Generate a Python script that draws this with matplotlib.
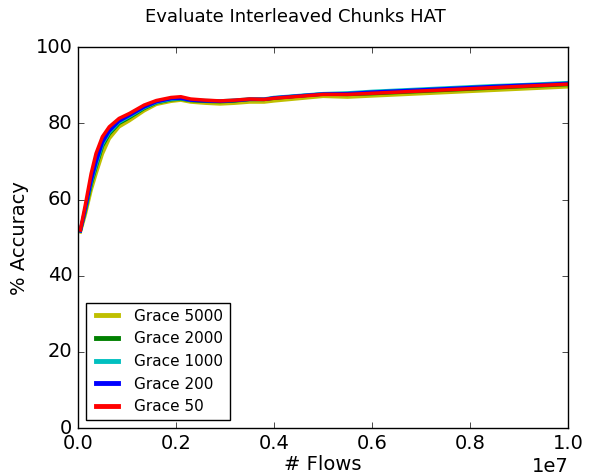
import matplotlib
matplotlib.use('Agg')
import matplotlib.pyplot as plt

# flows (x 1e7) and accuracy per grace value
flows = [0.005, 0.015, 0.027, 0.037, 0.05, 0.064, 0.084, 0.105, 0.135, 0.16,
         0.19, 0.21, 0.23, 0.26, 0.29, 0.32, 0.35, 0.38, 0.40, 0.45,
         0.50, 0.55, 0.60, 0.65, 0.70, 0.75, 0.80, 0.85, 0.90, 0.95, 1.00]

grace_5000 = [51.5, 56.0, 62.5, 66.8, 72.0, 76.0, 79.1, 80.7, 83.3, 85.0,
              85.8, 86.1, 85.6, 85.3, 85.1, 85.3, 85.6, 85.6, 85.9, 86.5,
              87.1, 86.9, 87.2, 87.5, 87.8, 88.1, 88.4, 88.7, 89.0, 89.3, 89.6]
grace_2000 = [51.8, 57.0, 64.0, 68.5, 74.0, 77.2, 80.0, 81.5, 83.9, 85.4,
              86.2, 86.4, 86.0, 85.8, 85.7, 85.9, 86.3, 86.3, 86.6, 87.2,
              87.7, 87.6, 87.8, 88.1, 88.4, 88.7, 89.0, 89.3, 89.6, 89.9, 90.2]
grace_1000 = [51.8, 57.3, 64.5, 69.0, 74.5, 77.6, 80.3, 81.8, 84.1, 85.5,
              86.3, 86.5, 86.1, 86.0, 85.9, 86.1, 86.4, 86.4, 86.8, 87.3,
              87.8, 88.0, 88.4, 88.7, 89.0, 89.3, 89.6, 89.9, 90.1, 90.4, 90.7]
grace_200 = [51.8, 57.6, 65.0, 69.8, 75.0, 78.0, 80.6, 82.1, 84.3, 85.7,
             86.5, 86.6, 86.1, 85.9, 85.8, 86.0, 86.3, 86.3, 86.7, 87.2,
             87.7, 87.8, 88.2, 88.5, 88.8, 89.1, 89.4, 89.7, 90.0, 90.2, 90.5]
grace_50 = [52.0, 58.5, 66.8, 72.1, 76.5, 79.1, 81.3, 82.6, 84.8, 86.0,
            86.8, 87.0, 86.4, 86.1, 85.9, 86.1, 86.4, 86.3, 86.6, 87.1,
            87.6, 87.6, 87.9, 88.2, 88.5, 88.8, 89.1, 89.4, 89.7, 90.0, 90.3]

series = [('Grace 5000', grace_5000, 'y'),
          ('Grace 2000', grace_2000, 'g'),
          ('Grace 1000', grace_1000, 'c'),
          ('Grace 200', grace_200, 'b'),
          ('Grace 50', grace_50, 'r')]

plt.style.use('classic')
fig = plt.figure(figsize=(5.9, 4.72), dpi=100, facecolor='white')
ax = fig.add_axes([0.132, 0.093, 0.831, 0.807])

x = [f * 1e7 for f in flows]
for label, vals, col in series:
    ax.plot(x, vals, color=col, lw=2.5, label=label)

ax.set_xlim(0, 1e7)
ax.set_ylim(0, 100)
ax.set_xticks([0, 2e6, 4e6, 6e6, 8e6, 1e7])
ax.set_yticks([0, 20, 40, 60, 80, 100])
ax.tick_params(labelsize=14)
ax.xaxis.get_offset_text().set_fontsize(14)

fig.suptitle('Evaluate Interleaved Chunks HAT', fontsize=13, x=0.5, y=0.964,
             va='center')
ax.set_xlabel('# Flows', fontsize=14, labelpad=2)
ax.set_ylabel('% Accuracy', fontsize=14)

leg = ax.legend(loc='lower left', fontsize=11, frameon=True, fancybox=False)
for h in leg.get_lines():
    h.set_linewidth(3.5)

fig.savefig('out.png', dpi=100, facecolor='white')
